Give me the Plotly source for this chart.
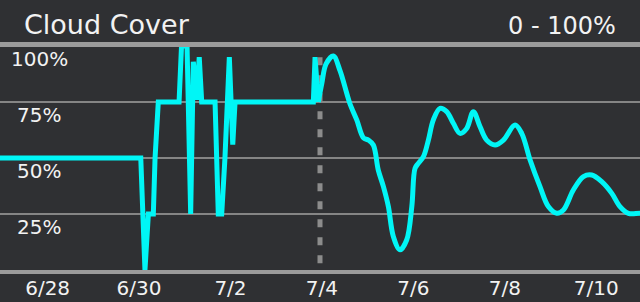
import plotly.graph_objects as go
import pandas as pd

# ---- data ----
BASE = pd.Timestamp("2019-06-27 00:00")
obs_hours = [-8, 72.9, 75.1, 76.9, 79.5, 80.4, 82.1, 93.0, 94.3, 97.2, 99.1, 100.5,
             102.2, 103.6, 104.9, 111.9, 113.6, 115.4, 117.1, 119.4, 121.2, 122.4,
             163.5, 164.4, 166.1]
obs_values = [50, 50, 0, 25, 25, 50, 75, 75, 100, 100, 25, 93,
              76, 95, 75, 75, 25, 25, 50, 95, 56, 75,
              75, 95, 75]

fc_hours = [166.1, 167.9, 170.2, 174.0, 177.5, 181.0, 182.8, 186.3, 189.8, 192.4,
            195.0, 197.6, 200.3, 202.9, 205.5, 209.0, 212.5, 215.2, 216.9, 218.6,
            221.3, 223.9, 226.5, 230.0, 233.5, 237.0, 240.5, 244.0, 247.5, 251.0,
            254.5, 258.9, 263.3, 269.4, 272.9, 277.3, 282.5, 286.9, 291.3, 294.8,
            300.0, 305.3, 309.7, 314.9, 320.2, 324.5, 328.9, 335.0, 343.0]
fc_values = [75, 83, 92, 95.5, 89, 79, 74, 67, 59, 58,
             55.8, 44.6, 37.2, 28.3, 15, 9, 13.4, 28.3, 45.4, 47.6,
             50.6, 58, 67, 72.2, 70.7, 65.5, 61, 63.2, 70.7, 64,
             58, 55.8, 58, 64.7, 61, 49.1, 37.2, 28.3, 25.3, 26.8,
             35.7, 41.7, 42.4, 39.4, 34.2, 28.3, 25.3, 25.3, 25.3]

tick_dates = ["2019-06-28", "2019-06-30", "2019-07-02", "2019-07-04",
              "2019-07-06", "2019-07-08", "2019-07-10"]
tick_labels = ["6/28", "6/30", "7/2", "7/4", "7/6", "7/8", "7/10"]

y_ticks = [100, 75, 50, 25]
y_labels = ["100%", "75%", "50%", "25%"]

now_time = "2019-07-03 23:00"
x_start = "2019-06-26 23:00"
x_end = "2019-07-10 23:00"

title = "Cloud Cover"
range_text = "0 - 100%"

# ---- style ----
BG = "#2f3033"
CYAN = "#00f6f6"
FONT = "DejaVu Sans"
W, H = 640, 302


def to_time(hours):
    return [BASE + pd.Timedelta(hours=h) for h in hours]


def py(px_from_top):
    return (H - px_from_top) / H


fig = go.Figure()
fig.add_trace(go.Scatter(x=to_time(obs_hours), y=obs_values, mode="lines",
                         line=dict(color=CYAN, width=5, shape="linear"),
                         hoverinfo="skip", showlegend=False))
fig.add_trace(go.Scatter(x=to_time(fc_hours), y=fc_values, mode="lines",
                         line=dict(color=CYAN, width=5, shape="spline", smoothing=1.0),
                         hoverinfo="skip", showlegend=False))

shapes = [
    # now line
    dict(type="line", xref="x", yref="y", x0=now_time, x1=now_time, y0=3, y1=96.5,
         line=dict(color="#8c8c8c", width=5, dash="8px,10px"), layer="between"),
    # top band
    dict(type="rect", xref="paper", yref="paper", x0=0, x1=1, y0=py(47), y1=py(42),
         fillcolor="#9b9b9b", line=dict(width=0), layer="above"),
    # bottom band
    dict(type="rect", xref="paper", yref="paper", x0=0, x1=1, y0=py(274), y1=py(270),
         fillcolor="#9b9b9b", line=dict(width=0), layer="above"),
]

annotations = [
    dict(text=title, xref="paper", yref="paper", x=22 / W, y=py(25), xanchor="left",
         yanchor="middle", showarrow=False, font=dict(family=FONT, size=27, color="#f2f2f2")),
    dict(text=range_text, xref="paper", yref="paper", x=618 / W, y=py(26), xanchor="right",
         yanchor="middle", showarrow=False, font=dict(family=FONT, size=24, color="#f2f2f2")),
]
for v, t in zip(y_ticks, y_labels):
    annotations.append(dict(text=t, xref="paper", yref="y", x=39 / W, y=v, yshift=-13,
                            xanchor="center", yanchor="middle", showarrow=False,
                            font=dict(family=FONT, size=20, color="#f2f2f2")))

fig.update_layout(
    width=W, height=H,
    margin=dict(l=0, r=0, t=0, b=0, pad=0),
    paper_bgcolor=BG, plot_bgcolor=BG,
    shapes=shapes, annotations=annotations,
    xaxis=dict(type="date", range=[x_start, x_end], domain=[0, 1],
               tickvals=tick_dates, ticktext=tick_labels, showgrid=False,
               zeroline=False, showline=False, ticks="",
               tickfont=dict(family=FONT, size=20, color="#f2f2f2"),
               ticklabelstandoff=4),
    yaxis=dict(range=[0, 100], domain=[py(270), py(46)], tickvals=[25, 50, 75],
               showticklabels=False, showgrid=True, gridcolor="#858585", gridwidth=2,
               zeroline=False, showline=False, ticks=""),
)

fig.write_html("out.html")
